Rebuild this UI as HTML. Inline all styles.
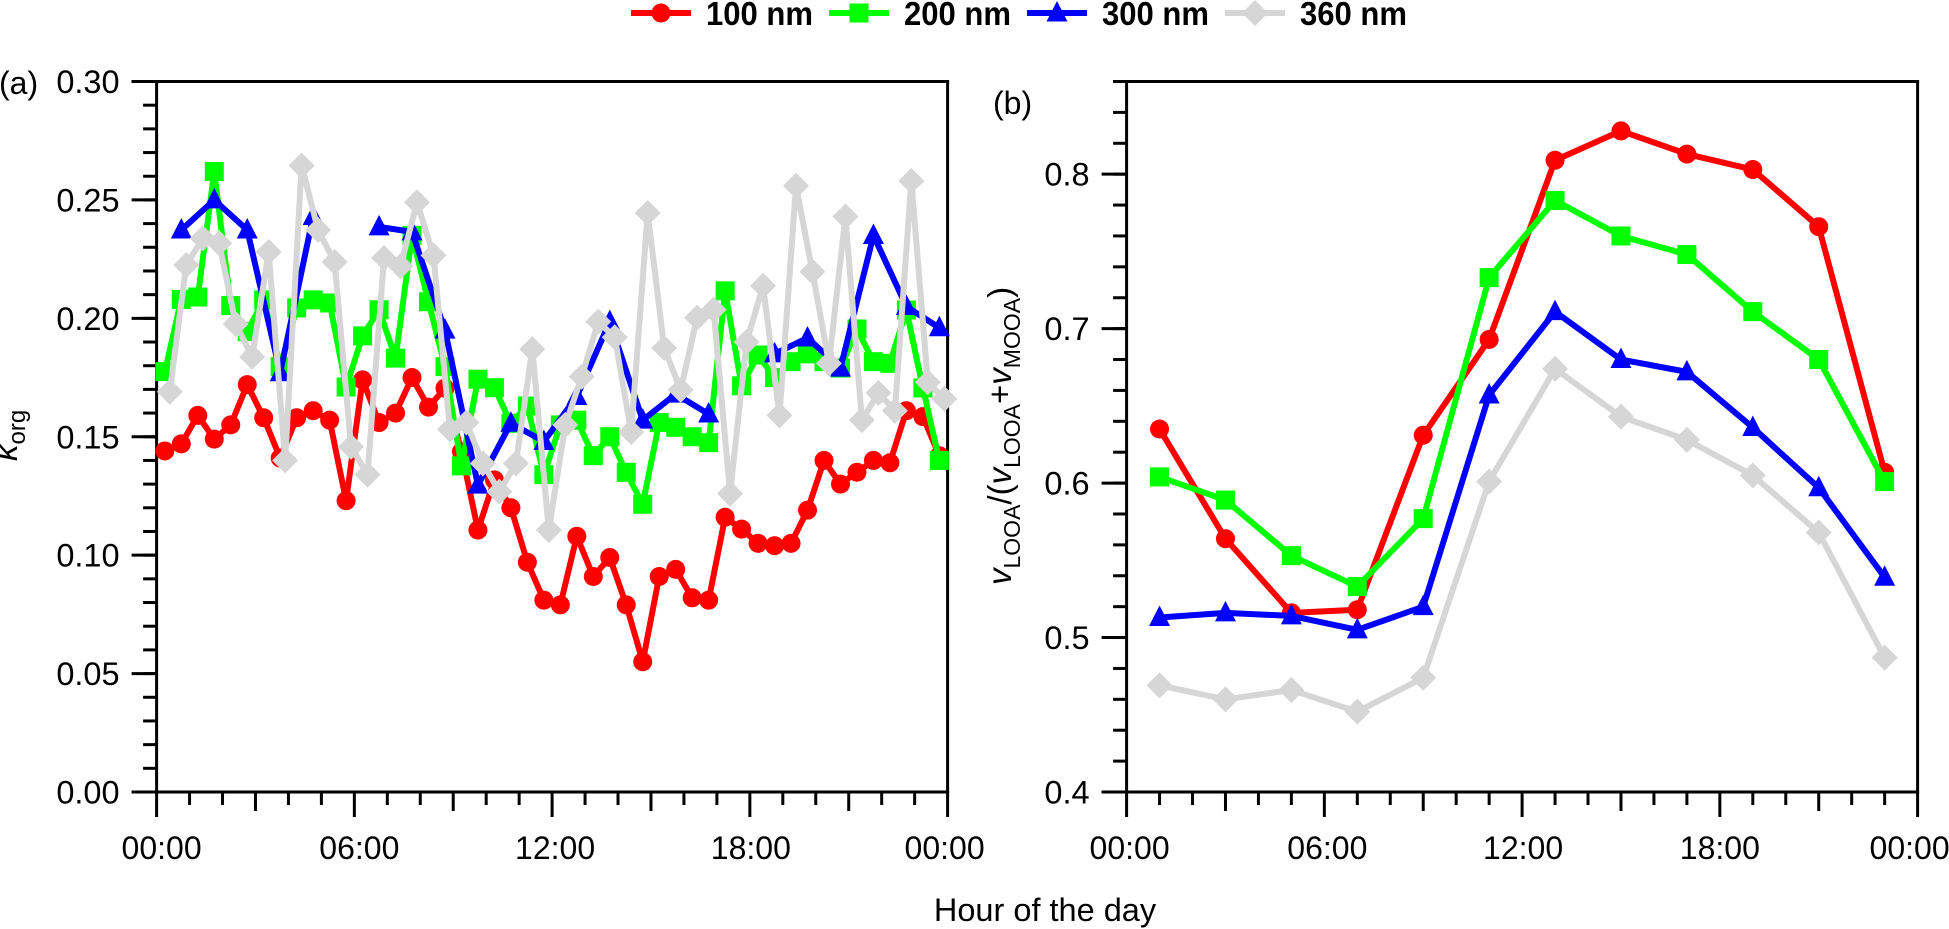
<!DOCTYPE html>
<html lang="en">
<head>
<meta charset="utf-8">
<title>Kappa org and LOOA fraction by hour of day</title>
<style>
html,body{margin:0;padding:0;background:#fff;}
svg{display:block;font-family:"Liberation Sans",sans-serif;fill:#000;}
</style>
</head>
<body>
<svg id="chart" width="1949" height="929" viewBox="0 0 1949 929" xmlns="http://www.w3.org/2000/svg">
  <text x="-1" y="94" font-size="32">(a)</text>
  <text x="993" y="114" font-size="32">(b)</text>
  <text x="1045" y="921" font-size="32.5" text-anchor="middle">Hour of the day</text>
  <text transform="translate(17,461) rotate(-90)" font-size="33"><tspan font-style="italic">κ</tspan><tspan font-size="24" dy="8">org</tspan></text>
  <text transform="translate(1011,585) rotate(-90)" font-size="33"><tspan font-style="italic">v</tspan><tspan font-size="23" dy="9">LOOA</tspan><tspan dy="-9">/(</tspan><tspan font-style="italic">v</tspan><tspan font-size="23" dy="9">LOOA</tspan><tspan dy="-9">+</tspan><tspan font-style="italic">v</tspan><tspan font-size="23" dy="9">MOOA</tspan><tspan dy="-9">)</tspan></text>
</svg>
<script>
// ---- Chart data ----
var seriesNames = ['100 nm', '200 nm', '300 nm', '360 nm'];
var seriesColors = ['#ff0000', '#00ff00', '#0000ff', '#d6d6d6'];

var xTickLabels = ['00:00', '06:00', '12:00', '18:00', '00:00'];
var xTickHours = [0, 6, 12, 18, 24];
var kappaTickValues = [0, 0.05, 0.10, 0.15, 0.20, 0.25, 0.30];
var kappaTickLabels = ['0.00', '0.05', '0.10', '0.15', '0.20', '0.25', '0.30'];
var fractionTickValues = [0.4, 0.5, 0.6, 0.7, 0.8];
var fractionTickLabels = ['0.4', '0.5', '0.6', '0.7', '0.8'];

var kappaHours100 = [0.25,0.75,1.25,1.75,2.25,2.75,3.25,3.75,4.25,4.75,5.25,5.75,6.25,6.75,7.25,7.75,8.25,8.75,9.25,9.75,10.25,10.75,11.25,11.75,12.25,12.75,13.25,13.75,14.25,14.75,15.25,15.75,16.25,16.75,17.25,17.75,18.25,18.75,19.25,19.75,20.25,20.75,21.25,21.75,22.25,22.75,23.25,23.75];
var kappa100 = [0.144,0.147,0.159,0.149,0.155,0.172,0.158,0.141,0.158,0.161,0.157,0.123,0.174,0.156,0.160,0.175,0.1625,0.1705,0.1437,0.1106,0.1318,0.120,0.097,0.081,0.079,0.108,0.091,0.099,0.079,0.055,0.091,0.094,0.082,0.081,0.116,0.111,0.105,0.104,0.105,0.119,0.140,0.130,0.135,0.140,0.139,0.161,0.1585,0.142];

var kappaHours200 = [0.25,0.75,1.25,1.75,2.25,2.75,3.25,3.75,4.25,4.75,5.25,5.75,6.25,6.75,7.25,7.75,8.25,8.75,9.25,9.75,10.25,10.75,11.25,11.75,12.25,12.75,13.25,13.75,14.25,14.75,15.25,15.75,16.25,16.75,17.25,17.75,18.25,18.75,19.25,19.75,20.25,20.75,21.25,21.75,22.25,22.75,23.25,23.75];
var kappa200 = [0.1775,0.208,0.209,0.262,0.2054,0.1944,0.2078,0.1796,0.2044,0.2078,0.2065,0.171,0.1926,0.2036,0.1832,0.235,0.207,0.1796,0.1377,0.1743,0.1707,0.1557,0.163,0.134,0.155,0.157,0.142,0.150,0.135,0.1215,0.156,0.154,0.150,0.1475,0.2116,0.1715,0.1845,0.175,0.1817,0.185,0.1817,0.179,0.1955,0.1817,0.181,0.2035,0.1706,0.140];

var kappaHours300 = [0.75,1.75,2.75,3.75,4.75,5.75,6.75,7.75,8.75,9.75,10.75,11.75,12.75,13.75,14.75,15.75,16.75,17.75,18.75,19.75,20.75,21.75,22.75,23.75];
var kappa300 = [0.2373,0.250,0.2373,0.177,0.243,null,0.2386,0.2365,0.195,0.1296,0.1557,0.148,0.167,0.1986,0.157,0.168,0.1596,null,0.185,0.1917,0.179,0.235,0.205,0.196];

var kappaHours360 = [0.4,0.9,1.4,1.9,2.4,2.9,3.4,3.9,4.4,4.9,5.4,5.9,6.4,6.9,7.4,7.9,8.4,8.9,9.4,9.9,10.4,10.9,11.4,11.9,12.4,12.9,13.4,13.9,14.4,14.9,15.4,15.9,16.4,16.9,17.4,17.9,18.4,18.9,19.4,19.9,20.4,20.9,21.4,21.9,22.4,22.9,23.4,23.9];
var kappa360 = [0.169,0.2225,0.2338,0.2317,0.1976,0.1838,0.228,0.140,0.2645,0.2373,0.2238,0.1458,0.134,0.2255,0.222,0.249,0.2266,0.1531,0.156,0.1387,0.1268,0.1387,0.187,0.1106,0.155,0.1754,0.1986,0.192,0.152,0.2445,0.1875,0.1698,0.2003,0.2036,0.126,0.190,0.2137,0.159,0.256,0.2197,0.181,0.243,0.157,0.1685,0.161,0.258,0.173,0.166];

var fractionHours = [1,3,5,7,9,11,13,15,17,19,21,23];
var fraction100 = [0.635,0.564,0.516,0.518,0.631,0.693,0.809,0.828,0.813,0.803,0.766,0.607];
var fraction200 = [0.604,0.589,0.553,0.533,0.577,0.733,0.783,0.760,0.748,0.711,0.680,0.601];
var fraction300 = [0.513,0.516,0.514,0.505,0.520,0.657,0.711,0.680,0.672,0.636,0.597,0.539];
var fraction360 = [0.469,0.460,0.466,0.452,0.474,0.601,0.674,0.643,0.628,0.605,0.568,0.487];

// ---- Layout ----
var NS = 'http://www.w3.org/2000/svg';
var svg = document.getElementById('chart');
var plotTop = 81.5, plotBottom = 792;
var panelA = {left: 156.6, right: 947.6, min: 0, max: 0.30};
var panelB = {left: 1126.6, right: 1917.6, min: 0.4, max: 0.86};

function xScale(p, h) { return p.left + (p.right - p.left) * h / 24; }
function yScale(p, v) { return plotBottom - (plotBottom - plotTop) * (v - p.min) / (p.max - p.min); }

function make(tag, attrs, parent) {
  var el = document.createElementNS(NS, tag);
  for (var k in attrs) { el.setAttribute(k, attrs[k]); }
  (parent || svg).appendChild(el);
  return el;
}

function strokeLine(x1, y1, x2, y2, w, name, parent) {
  var l = make('line', {x1: x1, y1: y1, x2: x2, y2: y2, stroke: '#000', 'stroke-width': w}, parent);
  
  
  return l;
}

function drawMarker(kind, x, y, color, parent, name) {
  var m;
  if (kind === 0) {
    m = make('circle', {cx: x, cy: y, r: 9.5, fill: color}, parent);
  } else if (kind === 1) {
    m = make('rect', {x: x - 9.5, y: y - 9.5, width: 19, height: 19, fill: color}, parent);
  } else if (kind === 2) {
    m = make('polygon', {points: x + ',' + (y - 12) + ' ' + (x + 10.5) + ',' + (y + 8.5) + ' ' + (x - 10.5) + ',' + (y + 8.5), fill: color}, parent);
  } else {
    m = make('polygon', {points: x + ',' + (y - 13) + ' ' + (x + 13) + ',' + y + ' ' + x + ',' + (y + 13) + ' ' + (x - 13) + ',' + y, fill: color}, parent);
  }
  
  
  return m;
}

function drawSeries(p, hours, values, idx, prefix) {
  var g = make('g', {});
  
  
  var seg = [];
  function flush() {
    if (seg.length > 1) {
      var pl = make('polyline', {points: seg.join(' '), fill: 'none', stroke: seriesColors[idx], 'stroke-width': 6, 'stroke-linejoin': 'round'}, g);
      
      
    }
    seg = [];
  }
  values.forEach(function (v, i) {
    if (v === null) { flush(); return; }
    seg.push(xScale(p, hours[i]) + ',' + yScale(p, v));
  });
  flush();
  values.forEach(function (v, i) {
    if (v === null) { return; }
    drawMarker(idx, xScale(p, hours[i]), yScale(p, v), seriesColors[idx], g, prefix + '-point-' + seriesNames[idx].replace(' ', ''));
  });
}

function drawAxes(p, prefix, yVals, yLabels, yMinorStep, yTopMajor, labelShift) {
  var g = make('g', {});
  
  
  var topExt = yTopMajor ? 25 : 13.5;
  strokeLine(p.left, plotTop - 1.5, p.left, plotBottom + 25, 3, prefix + '-y-axis-line', g);
  strokeLine(p.right, plotTop - 1.5, p.right, plotBottom + 25, 3, prefix + '-right-border', g);
  strokeLine(p.left - topExt, plotTop, p.right + 1.5, plotTop, 3, prefix + '-top-border', g);
  strokeLine(p.left - 25, plotBottom, p.right + 1.5, plotBottom, 3, prefix + '-x-axis-line', g);
  // x ticks: every hour, longer every 3h and 6h
  for (var h = 1; h < 24; h++) {
    var len = h % 6 === 0 ? 25 : (h % 3 === 0 ? 19 : 13);
    var tx = xScale(p, h);
    strokeLine(tx, plotBottom, tx, plotBottom + len, 3, prefix + '-x-tick', g);
  }
  // y minor ticks
  var n = Math.round((p.max - p.min) / yMinorStep);
  for (var i = 0; i <= n; i++) {
    var v = p.min + i * yMinorStep;
    var ty = yScale(p, v);
    strokeLine(p.left - 13.5, ty, p.left, ty, 3, prefix + '-y-minor-tick', g);
  }
  yVals.forEach(function (val, i) {
    var y = yScale(p, val);
    strokeLine(p.left - 25, y, p.left, y, 3, prefix + '-y-major-tick', g);
    var t = make('text', {x: p.left - 37, y: y + 11.5, 'font-size': 32.5, 'text-anchor': 'end'}, g);
    
    
    t.textContent = yLabels[i];
  });
  xTickHours.forEach(function (hr, i) {
    var t = make('text', {x: xScale(p, hr) + labelShift[i], y: 859, 'font-size': 32, 'text-anchor': 'middle'}, g);
    
    
    t.textContent = xTickLabels[i];
  });
}

drawAxes(panelA, 'panel-a', kappaTickValues, kappaTickLabels, 0.01, true, [5, 5, 3, 1, -3]);
drawAxes(panelB, 'panel-b', fractionTickValues, fractionTickLabels, 0.02, false, [3, 3, 1, 0, -8]);

drawSeries(panelA, kappaHours100, kappa100, 0, 'panel-a');
drawSeries(panelA, kappaHours200, kappa200, 1, 'panel-a');
drawSeries(panelA, kappaHours300, kappa300, 2, 'panel-a');
drawSeries(panelA, kappaHours360, kappa360, 3, 'panel-a');

drawSeries(panelB, fractionHours, fraction100, 0, 'panel-b');
drawSeries(panelB, fractionHours, fraction200, 1, 'panel-b');
drawSeries(panelB, fractionHours, fraction300, 2, 'panel-b');
drawSeries(panelB, fractionHours, fraction360, 3, 'panel-b');

// ---- Legend ----
var legendGroup = make('g', {});


var legendStart = 631, legendStep = 198, legendY = 13;
seriesNames.forEach(function (name, i) {
  var g = make('g', {}, legendGroup);
  
  
  var x0 = legendStart + legendStep * i;
  var l = make('line', {x1: x0, y1: legendY, x2: x0 + 60, y2: legendY, stroke: seriesColors[i], 'stroke-width': 6}, g);
  
  
  drawMarker(i, x0 + 30, legendY, seriesColors[i], g, 'legend-marker');
  var t = make('text', {x: x0 + 75, y: legendY + 12, 'font-size': 33, 'font-weight': 'bold', textLength: 107, lengthAdjust: 'spacingAndGlyphs'}, g);
  
  
  t.textContent = name;
});
</script>
</body>
</html>
